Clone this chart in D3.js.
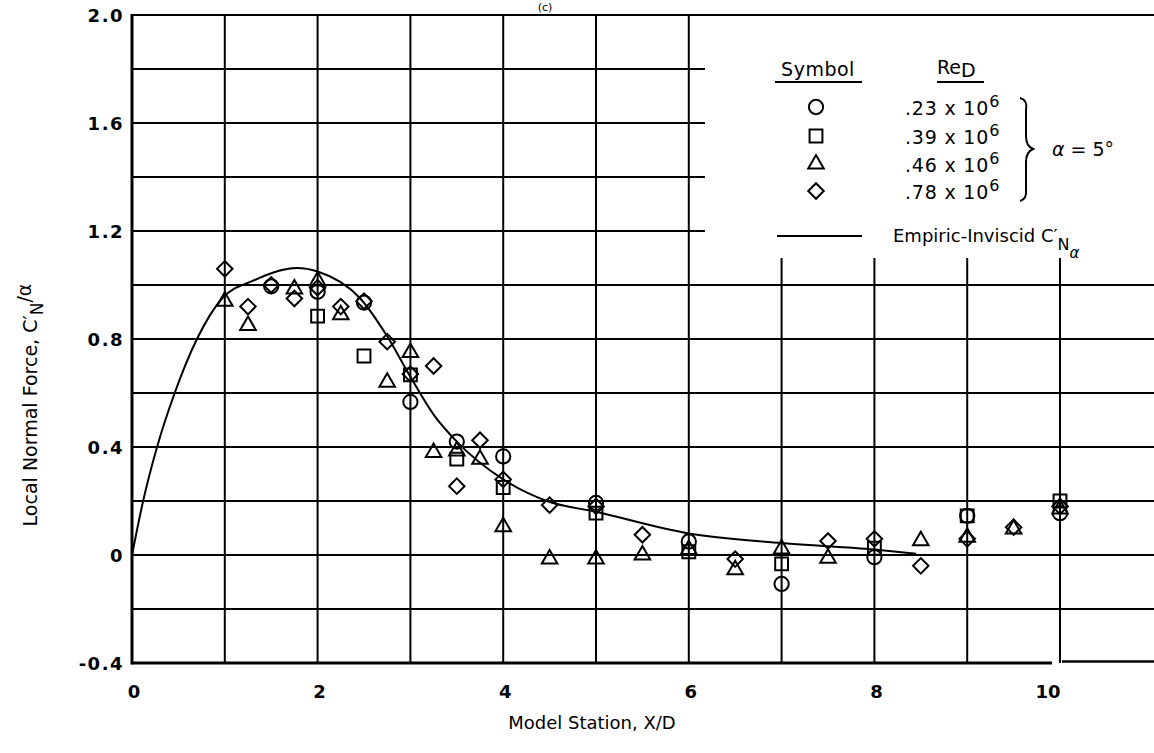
<!DOCTYPE html>
<html>
<head>
<meta charset="utf-8">
<script src="https://cdn.jsdelivr.net/npm/d3@7"></script>
<style>
  body { margin: 0; background: #fff; }
  svg { display: block; font-family: "DejaVu Sans", sans-serif; }
</style>
</head>
<body>
<div id="chart"></div>
<script>
// stations (X/D) and CN'/alpha for each Reynolds number
const circleX = [1.5, 2, 2.5, 3, 3.5, 4, 5, 6, 7, 8, 9, 10];
const circleY = [0.995, 0.975, 0.935, 0.567, 0.42, 0.365, 0.193, 0.05, -0.107, -0.008, 0.145, 0.155];

const squareX = [2, 2.5, 3, 3.5, 4, 5, 6, 7, 8, 9, 10];
const squareY = [0.885, 0.737, 0.667, 0.355, 0.25, 0.155, 0.012, -0.033, 0.025, 0.145, 0.2];

const triangleX = [1, 1.25, 1.75, 2, 2.25, 2.75, 3, 3.25, 3.5, 3.75, 4, 4.5, 5, 5.5, 6, 6.5, 7, 7.5, 8.5, 9, 9.5, 10];
const triangleY = [0.94, 0.85, 0.985, 1.015, 0.89, 0.64, 0.75, 0.38, 0.385, 0.355, 0.105, -0.015, -0.015, 0.0, 0.02, -0.055, 0.022, -0.012, 0.053, 0.066, 0.096, 0.17];

const diamondX = [1, 1.25, 1.5, 1.75, 2, 2.25, 2.5, 2.75, 3, 3.25, 3.5, 3.75, 4, 4.5, 5, 5.5, 6.5, 7.5, 8, 8.5, 9, 9.5, 10];
const diamondY = [1.06, 0.92, 1.0, 0.95, 0.99, 0.92, 0.94, 0.79, 0.67, 0.70, 0.255, 0.425, 0.28, 0.185, 0.18, 0.075, -0.015, 0.052, 0.06, -0.04, 0.06, 0.103, 0.18];

// empiric-inviscid curve
const theoryX = [0, 0.12, 0.27, 0.46, 0.7, 0.97, 1.3, 1.78, 2.0, 2.46, 2.75, 3.0, 3.25, 3.5, 4.0, 4.47, 5.0, 6.0, 7.0, 8.0, 8.45];
const theoryY = [0, 0.2, 0.4, 0.6, 0.8, 0.95, 1.015, 1.063, 1.05, 0.95, 0.81, 0.66, 0.52, 0.42, 0.28, 0.2, 0.16, 0.08, 0.044, 0.02, 0.005];

const xTicks = [0, 2, 4, 6, 8, 10];
const yTicks = [-0.4, 0, 0.4, 0.8, 1.2, 1.6, 2.0];
const yTickLabels = ["-0.4", "0", "0.4", "0.8", "1.2", "1.6", "2.0"];
const reLabels = [".23", ".39", ".46", ".78"];

const width = 1154, height = 753;

const svg = d3.select("#chart").append("svg")
    .attr("width", width)
    .attr("height", height);

const x = d3.scaleLinear().domain([0, 10]).range([132, 1060]);
const y = d3.scaleLinear().domain([-0.4, 2.0]).range([663, 15]);

// legend box region (no grid there)
const boxLeft = 705, boxBottom = 258;

// grid - vertical
d3.range(1, 11).forEach(v => {
    const top = (x(v) > boxLeft) ? boxBottom : y(2.0);
    svg.append("line")
        .attr("x1", x(v)).attr("x2", x(v))
        .attr("y1", top).attr("y2", y(-0.4))
        .attr("stroke", "#000").attr("stroke-width", 2);
});
// grid - horizontal
d3.range(-0.2, 1.9, 0.2).forEach(v => {
    const yy = y(v);
    const right = (yy < boxBottom) ? boxLeft : width;
    svg.append("line")
        .attr("x1", x(0)).attr("x2", right)
        .attr("y1", yy).attr("y2", yy)
        .attr("stroke", "#000").attr("stroke-width", 2);
});
// top border
svg.append("line")
    .attr("x1", x(0)).attr("x2", width)
    .attr("y1", y(2.0)).attr("y2", y(2.0))
    .attr("stroke", "#000").attr("stroke-width", 2);
// axes
svg.append("line")
    .attr("x1", x(0)).attr("x2", x(0))
    .attr("y1", y(2.0) - 1).attr("y2", y(-0.4) + 1.5)
    .attr("stroke", "#000").attr("stroke-width", 3);
svg.append("line")
    .attr("x1", x(0)).attr("x2", x(10) - 8)
    .attr("y1", y(-0.4)).attr("y2", y(-0.4))
    .attr("stroke", "#000").attr("stroke-width", 3);
svg.append("line")
    .attr("x1", x(10) + 2).attr("x2", width)
    .attr("y1", y(-0.4) - 1.5).attr("y2", y(-0.4) - 1.5)
    .attr("stroke", "#000").attr("stroke-width", 2.5);

// tick labels
svg.selectAll(".xt").data(xTicks).enter().append("text")
    .attr("x", d => x(d) + (d === 10 ? -12 : 2))
    .attr("y", 698)
    .attr("text-anchor", "middle")
    .attr("font-size", 18).attr("font-weight", "bold")
    .text(d => d);

svg.selectAll(".yt").data(yTicks).enter().append("text")
    .attr("x", 124)
    .attr("y", d => y(d) + 7)
    .attr("text-anchor", "end")
    .attr("font-size", 18).attr("font-weight", "bold")
    .attr("letter-spacing", 1.5)
    .text((d, i) => yTickLabels[i]);

// axis titles
svg.append("text")
    .attr("x", 592).attr("y", 729)
    .attr("text-anchor", "middle")
    .attr("font-size", 18)
    .text("Model Station, X/D");

const yt = svg.append("text")
    .attr("transform", "translate(37,405) rotate(-90)")
    .attr("text-anchor", "middle")
    .attr("font-size", 19);
yt.append("tspan").text("Local Normal Force, C\u2032");
yt.append("tspan").attr("dy", 6).attr("font-size", 17).text("N");
yt.append("tspan").attr("dy", -12).text("/\u03b1");

// caption at top (mostly cut off in the source)
svg.append("text")
    .attr("x", 545).attr("y", 11)
    .attr("text-anchor", "middle")
    .attr("font-size", 11)
    .text("(c)");

// theory curve
const line = d3.line()
    .x(d => x(d[0])).y(d => y(d[1]))
    .curve(d3.curveMonotoneX);
svg.append("path")
    .datum(theoryX.map((v, i) => [v, theoryY[i]]))
    .attr("d", line)
    .attr("fill", "none")
    .attr("stroke", "#000")
    .attr("stroke-width", 2);

// markers
const symCircle = d3.symbol().type(d3.symbolCircle).size(160);
const symSquare = d3.symbol().type(d3.symbolSquare).size(165);
const symTriangle = d3.symbol().type(d3.symbolTriangle).size(105);
const symDiamond = d3.symbol().type(d3.symbolSquare).size(120);

const series = [
    { xs: circleX, ys: circleY, gen: symCircle, rot: 0 },
    { xs: squareX, ys: squareY, gen: symSquare, rot: 0 },
    { xs: triangleX, ys: triangleY, gen: symTriangle, rot: 0 },
    { xs: diamondX, ys: diamondY, gen: symDiamond, rot: 45 }
];

series.forEach(s => {
    svg.append("g").selectAll("path")
        .data(s.xs.map((v, i) => [v, s.ys[i]]))
        .enter().append("path")
        .attr("d", s.gen())
        .attr("transform", d => `translate(${x(d[0])},${y(d[1])}) rotate(${s.rot})`)
        .attr("fill", "none")
        .attr("stroke", "#000")
        .attr("stroke-width", 2);
});

// legend
const lg = svg.append("g");
lg.append("text").attr("x", 818).attr("y", 76)
    .attr("text-anchor", "middle").attr("font-size", 19).attr("letter-spacing", 0.5).text("Symbol");
lg.append("line").attr("x1", 775).attr("x2", 862).attr("y1", 82).attr("y2", 82)
    .attr("stroke", "#000").attr("stroke-width", 2);
const re = lg.append("text").attr("x", 937).attr("y", 74).attr("font-size", 19);
re.append("tspan").text("Re");
re.append("tspan").attr("dy", 3).attr("font-size", 19).text("D");
lg.append("line").attr("x1", 937).attr("x2", 984).attr("y1", 82).attr("y2", 82)
    .attr("stroke", "#000").attr("stroke-width", 2);

const rowY = [107, 136, 164, 191];
series.forEach((s, i) => {
    lg.append("path")
        .attr("d", s.gen())
        .attr("transform", `translate(816,${rowY[i]}) rotate(${s.rot})`)
        .attr("fill", "none").attr("stroke", "#000").attr("stroke-width", 2);
    const t = lg.append("text").attr("x", 905).attr("y", rowY[i] + 8)
        .attr("font-size", 19).attr("letter-spacing", 0.8);
    t.append("tspan").text(reLabels[i] + " x 10");
    t.append("tspan").attr("dy", -8).attr("font-size", 16).text("6");
});

// brace
lg.append("path")
    .attr("d", "M1020,98 Q1028,100 1026,110 L1026,136 Q1026,146 1033,149 Q1026,152 1026,162 L1026,190 Q1027,199 1020,201")
    .attr("fill", "none").attr("stroke", "#000").attr("stroke-width", 2);

const al = lg.append("text").attr("x", 1052).attr("y", 156).attr("font-size", 19);
al.append("tspan").attr("font-style", "italic").text("\u03b1");
al.append("tspan").text(" = 5\u00b0");

lg.append("line").attr("x1", 777).attr("x2", 862).attr("y1", 236).attr("y2", 236)
    .attr("stroke", "#000").attr("stroke-width", 2);
const et = lg.append("text").attr("x", 893).attr("y", 242).attr("font-size", 18);
et.append("tspan").text("Empiric-Inviscid C\u2032");
et.append("tspan").attr("dy", 8).attr("font-size", 16).text("N");
et.append("tspan").attr("dy", 8).attr("font-size", 15).attr("font-style", "italic").text("\u03b1");
</script>
</body>
</html>
